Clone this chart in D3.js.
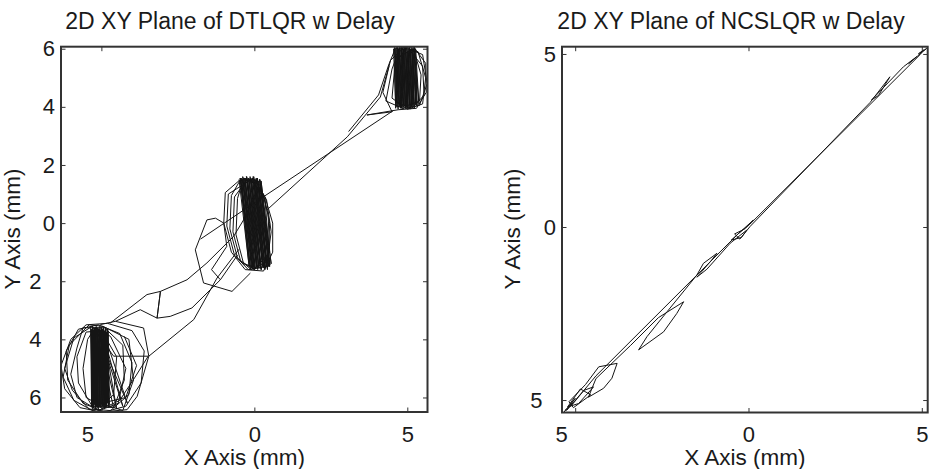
<!DOCTYPE html>
<html><head><meta charset="utf-8">
<script src="https://cdn.jsdelivr.net/npm/d3@7"></script>
<style>
body{margin:0;background:#fff}
svg text{font-family:"Liberation Sans",Arial,Helvetica,sans-serif;fill:#1a1a1a}
</style>
</head><body>
<svg id="c" width="939" height="469"></svg>
<script>
// ---------- text ----------
const titles = ["2D XY Plane of DTLQR w Delay", "2D XY Plane of NCSLQR w Delay"];
const xAxisLabel = "X Axis (mm)";
const yAxisLabel = "Y Axis (mm)";

// ---------- axis limits & ticks ----------
const dtXLim = [-6.32, 5.66];
const dtYLim = [-6.5, 6.07];
const dtXTicks = [-5, 0, 5];
const dtXTickLabels = ["5", "0", "5"];
const dtYTicks = [-6, -4, -2, 0, 2, 4, 6];
const dtYTickLabels = ["6", "4", "2", "0", "2", "4", "6"];

const ncsXLim = [-5.38, 5.17];
const ncsYLim = [-5.36, 5.21];
const ncsXTicks = [-5, 0, 5];
const ncsXTickLabels = ["5", "0", "5"];
const ncsYTicks = [-5, 0, 5];
const ncsYTickLabels = ["5", "0", "5"];

// ---------- DTLQR trajectory pieces [x mm, y mm] ----------
const dtBottomLoops = [[-5.03,-3.49],[-4.54,-3.38],[-3.62,-3.61],[-3.45,-4.58],[-3.83,-5.96],[-4.16,-6.42],[-5.0,-6.5],[-5.7,-6.35],[-6.2,-5.7],[-6.32,-4.9],[-6.0,-4.0],[-5.5,-3.5],[-4.8,-3.45],
 [-4.0,-3.7],[-3.6,-4.4],[-3.7,-5.5],[-4.2,-6.3],[-4.9,-6.5],[-5.6,-6.2],[-6.1,-5.4],[-6.15,-4.4],[-5.75,-3.65],[-5.1,-3.5],
 [-4.4,-3.8],[-4.0,-4.8],[-4.1,-5.9],[-4.7,-6.45],[-5.4,-6.4],[-5.95,-5.75],[-6.2,-5.0],[-5.9,-3.95],[-5.3,-3.55],
 [-4.6,-4.58],[-3.47,-4.58],[-3.9,-5.3],[-4.4,-6.1],[-5.1,-6.45],[-5.8,-6.0],[-6.0,-5.2],[-5.8,-4.3],[-5.6,-3.6],
 [-4.9,-3.6],[-4.3,-4.2],[-4.25,-5.4],[-4.6,-6.35],[-5.3,-6.3],[-5.75,-5.5],[-5.8,-4.6],[-5.5,-3.75],
 [-5.0,-3.7],[-4.5,-4.6],[-4.6,-5.9],[-5.0,-6.3],[-5.5,-6.0],[-5.6,-5.0],[-5.45,-4.0],[-5.2,-3.6],
 [-4.7,-3.9],[-4.2,-5.0],[-4.45,-6.2],[-5.2,-6.5],[-5.9,-6.1],[-6.25,-5.3],[-6.05,-4.2],[-5.4,-3.5],[-4.95,-3.55],
 [-4.1,-4.0],[-3.95,-5.4],[-4.3,-6.45],[-5.0,-6.2],[-4.2,-6.0],[-3.85,-4.9],[-4.25,-3.9]];
const dtBottomBand = [[-5.35,-3.6],[-5.32,-6.3],[-5.32,-3.65],[-5.28,-6.4],[-5.29,-3.55],[-5.25,-6.35],[-5.26,-3.7],[-5.22,-6.25],[-5.23,-3.6],[-5.19,-6.4],[-5.2,-3.65],[-5.16,-6.3],[-5.17,-3.55],[-5.13,-6.35],[-5.14,-3.7],[-5.1,-6.4],[-5.11,-3.6],[-5.07,-6.3],[-5.08,-3.65],[-5.04,-6.35],[-5.05,-3.55],[-5.01,-6.25],[-5.02,-3.7],[-4.98,-6.4],[-4.99,-3.6],[-4.95,-6.3],[-4.96,-3.65],[-4.92,-6.35],[-4.93,-3.6],[-4.89,-6.25],[-4.9,-3.7],[-4.86,-6.35],[-4.87,-3.6],[-4.83,-6.3],[-4.84,-3.75],[-4.8,-6.2],[-4.81,-3.65],[-4.77,-6.3],[-4.78,-3.7],[-4.74,-6.25],
 [-4.8,-3.65],[-4.76,-6.35],[-4.86,-3.6],[-4.83,-6.3],[-4.93,-3.7],[-4.9,-6.4],[-5.0,-3.6],[-4.97,-6.3],[-5.07,-3.65],[-5.04,-6.35],[-5.14,-3.6],[-5.11,-6.3],[-5.21,-3.7],[-5.18,-6.4],[-5.28,-3.6],[-5.25,-6.3],[-5.34,-3.65],[-5.3,-6.35],
 [-5.0,-3.6],[-4.3,-6.3],[-5.1,-3.65],[-4.5,-6.4],[-4.95,-3.7],[-4.15,-6.2],[-5.2,-3.6],[-4.6,-6.35]];
const dtClimbA = [[-4.71,-3.44],[-3.51,-2.46],[-3.07,-2.35],[-2.2,-1.95],[-1.55,-1.37],[-0.68,-0.46],[-0.3,0.2]];
const dtClimbB = [[-4.54,-3.38],[-3.73,-2.98],[-3.18,-3.27],[-3.07,-2.35],[-3.18,-3.27],[-2.75,-3.21],[-2.04,-2.92],[-1.11,-1.95],[-0.55,-1.1]];
const dtClimbC = [[-3.45,-4.58],[-1.98,-3.32],[-1.22,-1.89],[-0.5,-0.9]];
const dtMidLeft = [[-0.13,-1.72],[-0.73,-2.35],[-1.66,-2.06],[-1.93,-0.92],[-1.55,0.11],[-1.27,0.17],[-1.0,0.0],[-0.9,-0.8],[-1.4,-1.6],[-1.11,-1.95]];
const dtMidLoops = [[-0.4,1.55],[-0.95,1.05],[-1.0,0.0],[-0.75,-1.0],[-0.3,-1.6],[0.3,-1.65],[0.6,-1.0],[0.6,0.0],[0.35,0.9],[-0.1,1.5],
 [-0.85,1.0],[-0.9,-0.1],[-0.65,-1.1],[-0.2,-1.6],[0.4,-1.5],[0.55,-0.3],[0.4,0.8],[0.0,1.5],
 [-0.45,1.5],[-0.75,0.95],[-0.8,-0.2],[-0.55,-1.2],[-0.1,-1.6],[0.45,-1.3],[0.5,0.0],[0.3,1.0],[-0.2,1.55],
 [-0.65,0.9],[-0.7,-0.3],[-0.45,-1.3],[0.0,-1.6],[0.5,-1.0],[0.45,0.3],[0.2,1.3],[-0.35,1.55],
 [-0.55,0.85],[-0.6,-0.4],[-0.35,-1.4],[0.1,-1.55],[0.45,-0.6],[0.35,0.8],[-0.1,1.5]];
const dtMidBand = [[-0.5,1.5],[-0.17,-1.5],[-0.46,1.55],[-0.13,-1.6],[-0.42,1.5],[-0.09,-1.55],[-0.38,1.6],[-0.05,-1.5],[-0.34,1.5],[-0.01,-1.6],[-0.3,1.55],[0.03,-1.55],[-0.26,1.6],[0.07,-1.5],[-0.22,1.5],[0.11,-1.6],[-0.18,1.55],[0.15,-1.55],[-0.14,1.6],[0.19,-1.5],[-0.1,1.5],[0.23,-1.6],[-0.06,1.55],[0.27,-1.5],[-0.02,1.6],[0.31,-1.55],[0.02,1.5],[0.35,-1.6],[0.06,1.55],[0.39,-1.5],[0.1,1.5],[0.43,-1.55],[0.14,1.45],[0.47,-1.5],[0.18,1.5],[0.51,-1.45],[0.22,1.45],[0.55,-1.4],
 [0.17,1.5],[0.5,-1.5],[0.1,1.55],[0.43,-1.6],[0.03,1.5],[0.36,-1.55],[-0.04,1.6],[0.29,-1.5],[-0.11,1.55],[0.22,-1.6],[-0.18,1.5],[0.15,-1.55],[-0.25,1.6],[0.08,-1.5],[-0.32,1.55],[0.01,-1.6],[-0.39,1.5],[-0.06,-1.55],[-0.46,1.55],[-0.13,-1.5]];
const dtRiseA = [[-1.76,-0.55],[0.29,0.9],[4.54,3.87]];
const dtRiseB = [[0.42,0.46],[3.04,2.97],[4.12,4.34],[4.4,5.4]];
const dtTopLoops = [[3.08,3.15],[4.06,4.41],[4.39,5.44],[4.61,6.01],[5.2,6.07],[5.6,5.5],[5.62,4.5],[5.3,3.95],[4.7,3.9],[3.68,3.72],[4.5,3.83],[4.2,4.5],[4.45,5.6],[4.9,6.05],[5.5,5.8],[5.65,4.8],[5.4,4.05],[4.85,3.95],[4.3,4.2],[4.5,5.3],[4.75,6.0],[5.35,5.9],[5.6,5.0],[5.5,4.1],[5.0,3.92],[4.5,4.3],[4.6,5.5],[5.0,6.05],[5.5,5.4],[5.55,4.4],[5.15,3.95],[4.65,4.15],[4.7,5.7],[5.2,6.0],[5.45,5.1],[5.4,4.2],[4.9,4.0]];
const dtTopBand = [[4.55,6.0],[4.62,3.95],[4.59,6.05],[4.66,4.0],[4.63,5.98],[4.7,3.92],[4.67,6.05],[4.74,4.05],[4.71,6.0],[4.78,3.95],[4.75,6.05],[4.82,4.0],[4.79,5.98],[4.86,3.92],[4.83,6.05],[4.9,4.05],[4.87,6.0],[4.94,3.95],[4.91,6.05],[4.98,4.0],[4.95,5.98],[5.02,3.92],[4.99,6.05],[5.06,4.05],[5.03,6.0],[5.1,3.95],[5.07,6.05],[5.14,4.0],[5.11,5.98],[5.18,4.05],[5.15,6.05],[5.22,4.0],[5.19,6.0],[5.27,4.1],[5.23,6.05],[5.32,4.05],[5.27,6.0],[5.38,4.1],
 [5.22,6.05],[5.3,4.05],[5.15,6.0],[5.23,3.95],[5.08,6.05],[5.16,4.0],[5.01,5.98],[5.09,3.92],[4.94,6.05],[5.02,4.0],[4.87,6.0],[4.95,3.95],[4.8,6.05],[4.88,4.05],[4.73,6.0],[4.81,3.95],[4.66,6.05],[4.74,4.0],[4.59,6.0],[4.67,3.98]];

// ---------- NCSLQR trajectory pieces [x mm, y mm] ----------
const ncsForward = [[-5.33,-5.36],[-5.0,-4.95],[-5.25,-5.3],[-4.75,-4.72],[-4.47,-4.62],[-4.9,-5.1],[-5.22,-5.2],[-4.85,-4.68],[-4.55,-4.85],[-5.05,-5.22],[-5.18,-5.05],[-4.7,-4.55],[-4.32,-4.04],[-3.79,-3.94],[-3.94,-4.37],[-4.18,-4.66],[-4.62,-4.92],[-4.4,-4.38],[-3.4,-3.42],[-2.6,-2.62],[-1.87,-2.16],[-2.07,-2.5],[-2.45,-3.03],[-3.17,-3.55],[-2.93,-3.17],[-2.35,-2.45],[-1.49,-1.39],[-1.3,-1.05],[-0.91,-0.76],[-1.1,-1.0],[-1.49,-1.45],[-1.2,-1.22],[-0.53,-0.47],[-0.05,-0.09],[-0.2,-0.3],[-0.5,-0.38],[0.14,0.2],[-0.1,-0.05],[-0.4,-0.2],[-0.25,-0.35],[0.05,0.02],[3.51,3.6],[4.08,4.34],[3.75,3.8],[3.55,3.67],[4.47,4.63],[4.85,4.92],[4.62,4.72],[5.14,5.16],[4.9,5.0],[5.05,5.12],[4.95,4.98]];
const ncsReturn = [[4.95,4.98],[0.08,0.12],[-0.3,-0.2],[-4.4,-4.3],[-5.1,-5.15],[-5.3,-5.3]];

// ---------- drawing ----------
const svg = d3.select("#c");
const FONT = '"Liberation Sans",Arial,Helvetica,sans-serif';

function panel(cfg) {
  const x = d3.scaleLinear().domain(cfg.xLim).range([cfg.left, cfg.right]);
  const y = d3.scaleLinear().domain(cfg.yLim).range([cfg.bottom, cfg.top]);
  const g = svg.append("g");
  svg.append("clipPath").attr("id", cfg.id).append("rect")
    .attr("x", cfg.left).attr("y", cfg.top)
    .attr("width", cfg.right - cfg.left).attr("height", cfg.bottom - cfg.top);
  const line = d3.line().x(d => x(d[0])).y(d => y(d[1]));
  const plot = g.append("g").attr("clip-path", `url(#${cfg.id})`);
  cfg.paths.forEach(p => plot.append("path").attr("d", line(p))
    .attr("fill", "none").attr("stroke", "#151515").attr("stroke-width", 1)
    .attr("stroke-linejoin", "round"));

  const style = sel => {
    sel.select(".domain").remove();
    sel.attr("font-size", 22).attr("font-family", FONT).attr("color", "#1a1a1a");
    sel.selectAll(".tick line").attr("stroke", "#333").attr("stroke-width", 1);
  };
  const ax = (d, i) => cfg.xTickLabels[i];
  const ay = (d, i) => cfg.yTickLabels[i];
  g.append("g").attr("transform", `translate(0,${cfg.bottom})`)
    .call(d3.axisBottom(x).tickValues(cfg.xTicks).tickFormat(ax).tickSizeInner(-4.5).tickSizeOuter(0).tickPadding(14))
    .call(style)
    .selectAll(".tick text").attr("dx", d => d < 0 ? -14 : 0);
  g.append("g").attr("transform", `translate(0,${cfg.top})`)
    .call(d3.axisTop(x).tickValues(cfg.xTicks).tickFormat("").tickSizeInner(-4.5).tickSizeOuter(0))
    .call(style);
  g.append("g").attr("transform", `translate(${cfg.left},0)`)
    .call(d3.axisLeft(y).tickValues(cfg.yTicks).tickFormat(ay).tickSizeInner(-4.5).tickSizeOuter(0).tickPadding(6))
    .call(style)
    .selectAll(".tick text").attr("dx", d => d < 0 ? -13.5 : 0);
  g.append("g").attr("transform", `translate(${cfg.right},0)`)
    .call(d3.axisRight(y).tickValues(cfg.yTicks).tickFormat("").tickSizeInner(-4.5).tickSizeOuter(0))
    .call(style);

  g.append("rect").attr("x", cfg.left).attr("y", cfg.top)
    .attr("width", cfg.right - cfg.left).attr("height", cfg.bottom - cfg.top)
    .attr("fill", "none").attr("stroke", "#333").attr("stroke-width", 2);

  g.append("text").attr("x", cfg.titleX).attr("y", 28.5).attr("text-anchor", "middle")
    .attr("font-size", 23).text(cfg.title);
  g.append("text").attr("x", (cfg.left + cfg.right) / 2).attr("y", 465).attr("text-anchor", "middle")
    .attr("font-size", 22.5).text(xAxisLabel);
  g.append("text").attr("transform", `translate(${cfg.yLabelX},229) rotate(-90)`)
    .attr("text-anchor", "middle").attr("font-size", 22.5).text(yAxisLabel);
}

panel({
  id: "clipL", left: 61, right: 427.5, top: 46.7, bottom: 412,
  xLim: dtXLim, yLim: dtYLim, xTicks: dtXTicks, xTickLabels: dtXTickLabels,
  yTicks: dtYTicks, yTickLabels: dtYTickLabels,
  title: titles[0], titleX: 230, yLabelX: 20,
  paths: [dtBottomLoops, dtBottomBand, dtClimbA, dtClimbB, dtClimbC, dtMidLeft, dtMidLoops, dtMidBand, dtRiseA, dtRiseB, dtTopLoops, dtTopBand]
});
panel({
  id: "clipR", left: 562, right: 927.7, top: 46.7, bottom: 412.5,
  xLim: ncsXLim, yLim: ncsYLim, xTicks: ncsXTicks, xTickLabels: ncsXTickLabels,
  yTicks: ncsYTicks, yTickLabels: ncsYTickLabels,
  title: titles[1], titleX: 731, yLabelX: 520,
  paths: [ncsForward, ncsReturn]
});
</script>
</body></html>
